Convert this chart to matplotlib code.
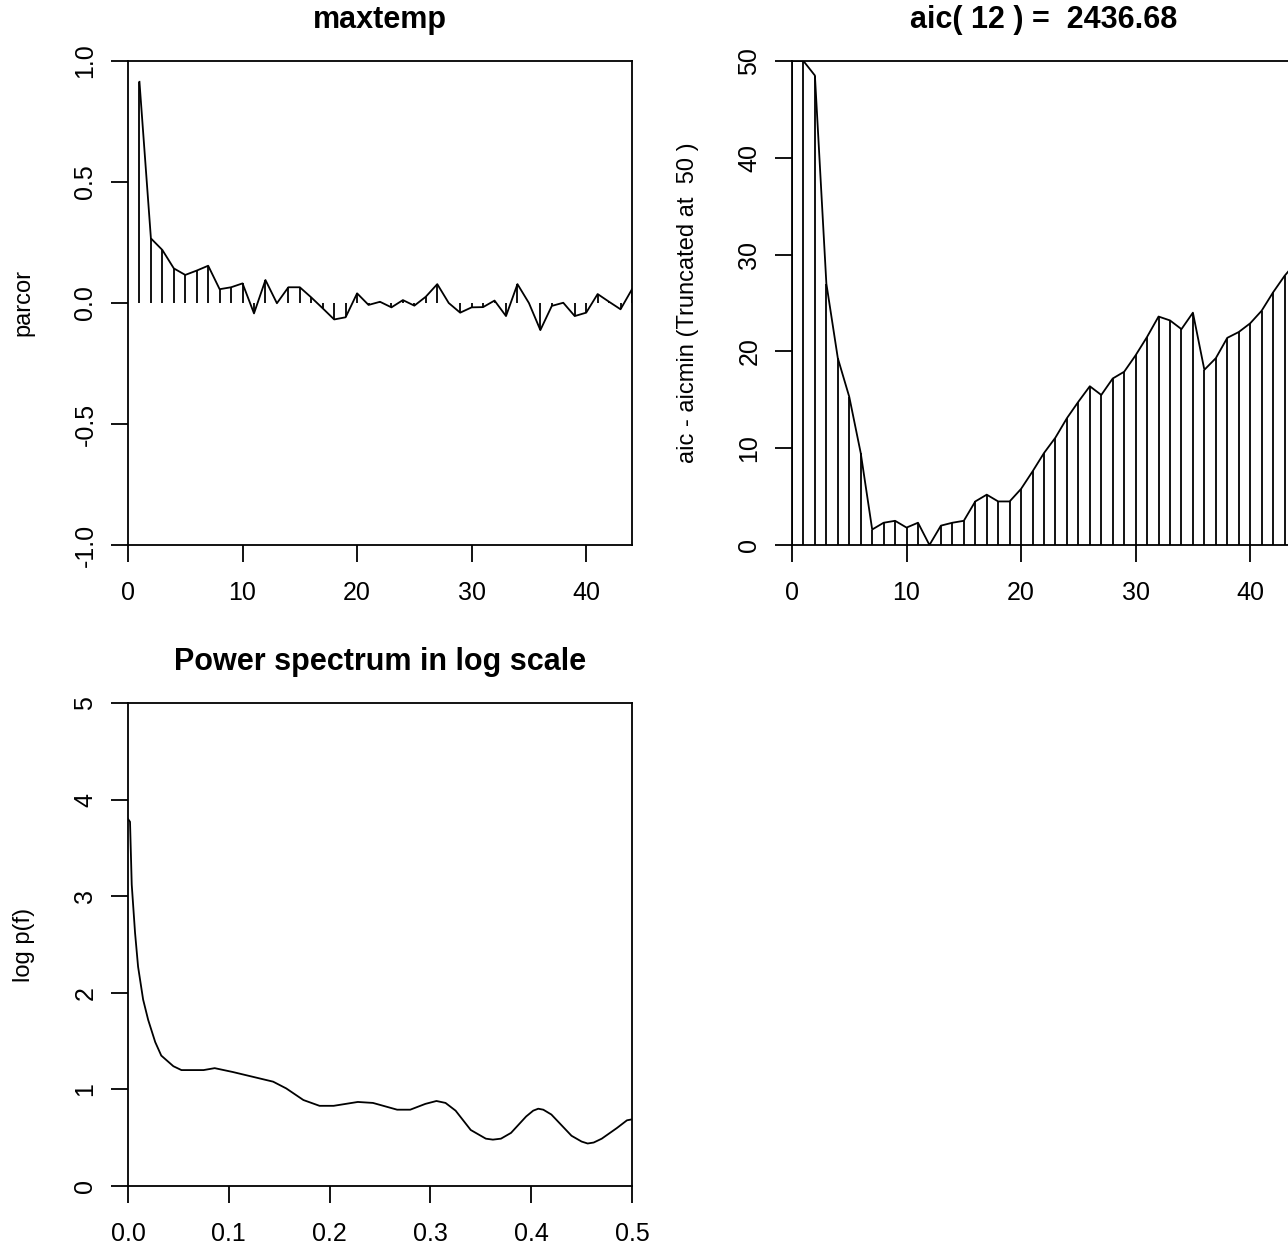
import matplotlib
matplotlib.use("Agg")
import matplotlib.pyplot as plt
import numpy as np

plt.rcParams['font.family'] = ['Liberation Sans', 'DejaVu Sans']

# partial autocorrelations, lags 1..44
lags = list(range(1, 45))
parcor = [0.914, 0.267, 0.219, 0.143, 0.116, 0.134, 0.154, 0.057, 0.065, 0.081,
          -0.043, 0.095, -0.001, 0.065, 0.065, 0.023, -0.022, -0.068, -0.059, 0.040,
          -0.008, 0.005, -0.018, 0.012, -0.011, 0.026, 0.078, 0.000, -0.040, -0.018,
          -0.017, 0.010, -0.054, 0.078, 0.000, -0.112, -0.012, 0.001, -0.054, -0.040,
          0.037, 0.005, -0.026, 0.057]

# aic - aicmin, orders 0..44 (truncated at 50)
orders = list(range(0, 45))
aic_diff = [50.0, 50.0, 48.5, 27.0, 19.3, 15.3, 9.5, 1.6, 2.3, 2.5,
            1.8, 2.3, 0.0, 2.0, 2.3, 2.5, 4.5, 5.2, 4.5, 4.5,
            5.8, 7.6, 9.5, 11.1, 13.1, 14.8, 16.4, 15.5, 17.2, 17.9,
            19.6, 21.5, 23.6, 23.2, 22.3, 24.0, 18.1, 19.3, 21.4, 22.0,
            22.9, 24.2, 26.1, 27.8, 29.2]
aic_title = "aic( 12 ) =  2436.68"

# log power spectrum
freq = [0.0, 0.002, 0.0037, 0.007, 0.010, 0.015, 0.020, 0.027, 0.033, 0.045,
        0.053, 0.075, 0.086, 0.104, 0.124, 0.144, 0.157, 0.174, 0.190, 0.204,
        0.228, 0.243, 0.267, 0.280, 0.295, 0.306, 0.315, 0.325, 0.340, 0.355,
        0.362, 0.370, 0.380, 0.395, 0.402, 0.407, 0.412, 0.420, 0.430, 0.440,
        0.450, 0.456, 0.462, 0.470, 0.485, 0.495, 0.500]
logp = [3.80, 3.77, 3.12, 2.62, 2.27, 1.93, 1.72, 1.49, 1.35, 1.24,
        1.20, 1.20, 1.22, 1.18, 1.13, 1.08, 1.01, 0.89, 0.83, 0.83,
        0.87, 0.86, 0.79, 0.79, 0.85, 0.88, 0.86, 0.78, 0.58, 0.49,
        0.48, 0.49, 0.55, 0.72, 0.78, 0.80, 0.79, 0.74, 0.63, 0.52,
        0.46, 0.44, 0.45, 0.49, 0.60, 0.68, 0.69]

LW = 1.3
TICK = 18
TITLE = 22


def style(ax, title, ylabel):
    for s in ax.spines.values():
        s.set_linewidth(LW)
    ax.tick_params(direction='out', length=12, width=LW, labelsize=TICK)
    ax.tick_params(axis='x', pad=14)
    ax.tick_params(axis='y', pad=10, labelrotation=90)
    for lbl in ax.get_yticklabels():
        lbl.set_va('center')
    ax.set_title(title, fontsize=TITLE, fontweight='bold', pad=24)
    ax.set_ylabel(ylabel, fontsize=TICK - 1)
    ax.yaxis.set_label_coords(-0.185, 0.5)


fig = plt.figure(figsize=(12.88, 12.48), dpi=100)

# parcor
ax1 = fig.add_axes([128 / 1288, 1 - 545 / 1248, 504 / 1288, 484 / 1248])
ax1.vlines(lags, 0, parcor, color='black', lw=LW)
ax1.plot(lags, parcor, color='black', lw=LW)
ax1.set_xlim(0, 44)
ax1.set_ylim(-1, 1)
ax1.set_xticks([0, 10, 20, 30, 40])
ax1.set_yticks([-1.0, -0.5, 0.0, 0.5, 1.0])
ax1.set_yticklabels(['-1.0', '-0.5', '0.0', '0.5', '1.0'])
style(ax1, 'maxtemp', 'parcor')

# aic
ax2 = fig.add_axes([792 / 1288, 1 - 545 / 1248, 504 / 1288, 484 / 1248])
aic_cut = np.minimum(aic_diff, 50)
ax2.vlines(orders, 0, aic_cut, color='black', lw=LW)
ax2.plot(orders, aic_cut, color='black', lw=LW)
ax2.set_xlim(0, 44)
ax2.set_ylim(0, 50)
ax2.set_xticks([0, 10, 20, 30, 40])
ax2.set_yticks([0, 10, 20, 30, 40, 50])
style(ax2, aic_title, 'aic - aicmin (Truncated at  50 )')

# spectrum
ax3 = fig.add_axes([128 / 1288, 1 - 1186 / 1248, 504 / 1288, 483 / 1248])
ax3.plot(freq, logp, color='black', lw=LW)
ax3.set_xlim(0, 0.5)
ax3.set_ylim(0, 5)
ax3.set_xticks([0.0, 0.1, 0.2, 0.3, 0.4, 0.5])
ax3.set_xticklabels(['0.0', '0.1', '0.2', '0.3', '0.4', '0.5'])
ax3.set_yticks([0, 1, 2, 3, 4, 5])
style(ax3, 'Power spectrum in log scale', 'log p(f)')

fig.savefig('out.png', dpi=100)
